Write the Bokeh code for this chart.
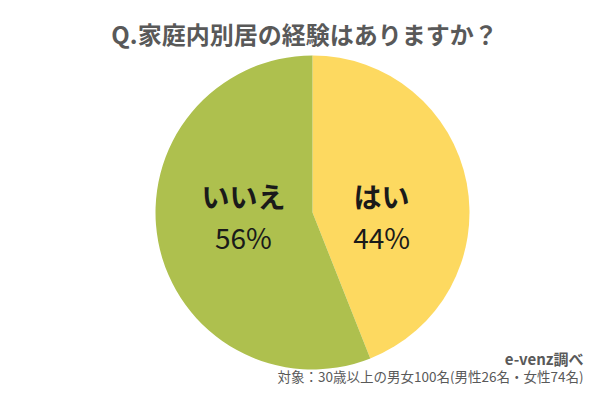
import math
from bokeh.plotting import figure
from bokeh.models import Range1d, ColumnDataSource
from bokeh.core.properties import value
from bokeh.embed import file_html
from bokeh.resources import INLINE

# ---- data ----
title_text = "Q.家庭内別居の経験はありますか？"
categories = ["はい", "いいえ"]
percents = [44, 56]
colors = ["#FDD960", "#AEC04E"]
source_note = "e-venz調べ"
target_note = "対象：30歳以上の男女100名(男性26名・女性74名)"

W, H = 584, 384
FONT = "Noto Sans CJK JP"

p = figure(width=W, height=H, output_backend="svg", toolbar_location=None,
           x_range=Range1d(0, W), y_range=Range1d(0, H),
           x_axis_location=None, y_axis_location=None, min_border=0)
p.outline_line_color = None
p.grid.visible = False
p.background_fill_color = "white"
p.border_fill_color = "white"

cx, cy, r = 312, H - 212, 157

total = sum(percents)
starts, ends, mids = [], [], []
cum = 0
for v in percents:
    s = math.pi / 2 - 2 * math.pi * cum / total
    cum += v
    e = math.pi / 2 - 2 * math.pi * cum / total
    starts.append(s)
    ends.append(e)
    mids.append((s + e) / 2)

src = ColumnDataSource(dict(start=starts, end=ends, color=colors))
p.wedge(x=cx, y=cy, radius=r, start_angle="start", end_angle="end",
        direction="clock", fill_color="color", line_color=None, source=src)

lx = [cx + 0.44 * r * (1 if math.cos(m) > 0 else -1) for m in mids]
lsrc = ColumnDataSource(dict(x=lx, y1=[H - 195] * 2, y2=[H - 236] * 2,
                             name=categories,
                             pct=[f"{v}%" for v in percents]))
p.text(x="x", y="y1", text="name", source=lsrc, text_align="center",
       text_baseline="middle", text_font=value(FONT), text_font_size="28px",
       text_font_style="bold", text_color="#1a1a1a")
p.text(x="x", y="y2", text="pct", source=lsrc, text_align="center",
       text_baseline="middle", text_font=value(FONT), text_font_size="28px",
       text_color="#1a1a1a")

p.text(x=[304], y=[H - 33], text=[title_text], text_align="center",
       text_baseline="middle", text_font=value(FONT), text_font_size="24px",
       text_font_style="bold", text_color="#595959")

p.text(x=[W - 1], y=[H - 358], text=[source_note], text_align="right",
       text_baseline="middle", text_font=value(FONT), text_font_size="15px",
       text_font_style="bold", text_color="#595959")
p.text(x=[W - 1], y=[H - 375], text=[target_note], text_align="right",
       text_baseline="middle", text_font=value(FONT), text_font_size="13.5px",
       text_color="#595959")

open("out.html", "w").write(file_html(p, INLINE))
